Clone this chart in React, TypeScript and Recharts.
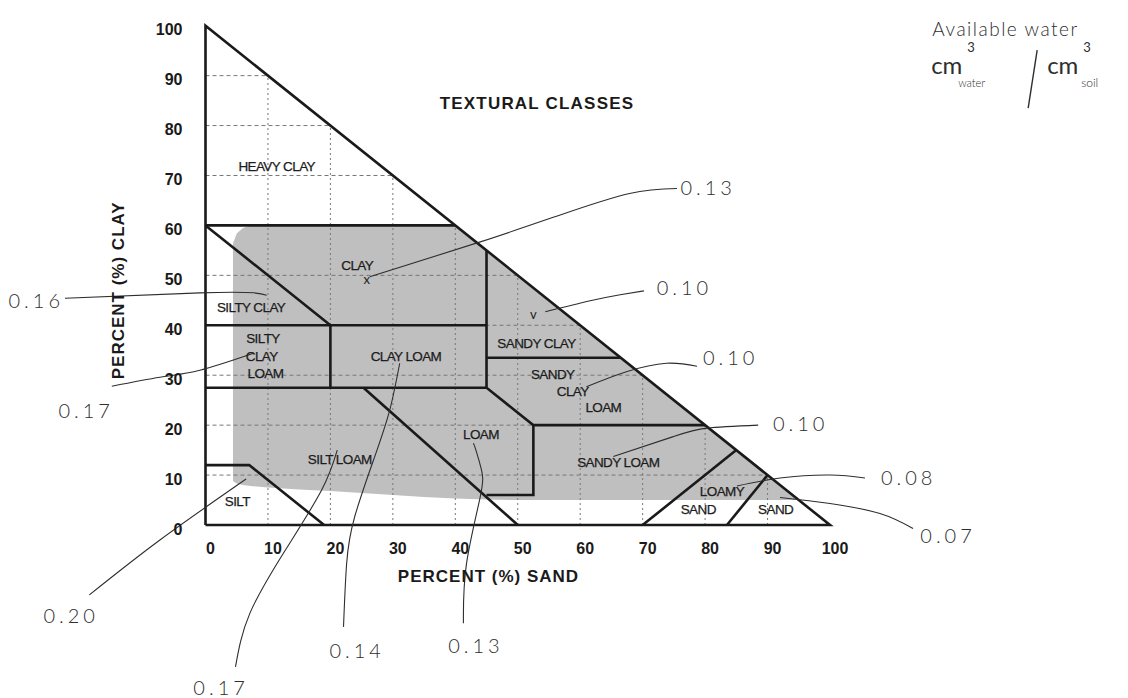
import React from 'react';
import { ComposedChart, XAxis, YAxis, Line, Area, Scatter } from 'recharts';

// ---------- data ----------
const xTickValues = [0, 10, 20, 30, 40, 50, 60, 70, 80, 90, 100];
const yTickValues = [0, 10, 20, 30, 40, 50, 60, 70, 80, 90, 100];
const gridValues = [10, 20, 30, 40, 50, 60, 70, 80, 90];

const triangleOutline = [
  { x: 0, y: 0 }, { x: 0, y: 100 }, { x: 100, y: 0 }, { x: 0, y: 0 },
];

const classBoundaries = [
  [{ x: 0, y: 60 }, { x: 40, y: 60 }],
  [{ x: 0, y: 60 }, { x: 20, y: 40 }],
  [{ x: 0, y: 40 }, { x: 45, y: 40 }],
  [{ x: 20, y: 40 }, { x: 20, y: 27.5 }],
  [{ x: 0, y: 27.5 }, { x: 45, y: 27.5 }],
  [{ x: 45, y: 55 }, { x: 45, y: 27.5 }, { x: 52.5, y: 20 }, { x: 52.5, y: 6 }, { x: 45, y: 6 }],
  [{ x: 45, y: 33.5 }, { x: 66.5, y: 33.5 }],
  [{ x: 52.5, y: 20 }, { x: 80, y: 20 }],
  [{ x: 25.3, y: 27.5 }, { x: 50, y: 0 }],
  [{ x: 0, y: 12 }, { x: 7, y: 12 }, { x: 19, y: 0 }],
  [{ x: 70, y: 0 }, { x: 85, y: 15 }],
  [{ x: 83.5, y: 0 }, { x: 90, y: 10 }],
];

// shaded range (available-water zone): [lower, upper] clay % per sand %
const shadedZone = [
  { x: 4.4, range: [8.8, 56.4] },
  { x: 5, range: [8.3, 58.4] },
  { x: 6, range: [8.0, 59.5] },
  { x: 7.2, range: [7.8, 60] },
  { x: 10, range: [7.5, 60] },
  { x: 15, range: [7.1, 60] },
  { x: 20, range: [6.8, 60] },
  { x: 25, range: [6.4, 60] },
  { x: 30, range: [6.0, 60] },
  { x: 35, range: [5.6, 60] },
  { x: 40, range: [5.3, 60] },
  { x: 45, range: [5.1, 55] },
  { x: 50, range: [5.0, 50] },
  { x: 60, range: [5.0, 40] },
  { x: 70, range: [5.0, 30] },
  { x: 80, range: [5.0, 20] },
  { x: 90, range: [5.0, 10] },
  { x: 95, range: [5.0, 5.0] },
];

const classLabels = [
  { x: 11.4, y: 71.9, label: 'HEAVY CLAY' },
  { x: 24.3, y: 52.0, label: 'CLAY' },
  { x: 7.3, y: 43.5, label: 'SILTY CLAY' },
  { x: 9.2, y: 37.3, label: 'SILTY' },
  { x: 9.0, y: 33.8, label: 'CLAY' },
  { x: 9.6, y: 30.4, label: 'LOAM' },
  { x: 32.1, y: 33.7, label: 'CLAY LOAM' },
  { x: 21.5, y: 13.2, label: 'SILT LOAM' },
  { x: 5.1, y: 4.7, label: 'SILT' },
  { x: 44.1, y: 18.2, label: 'LOAM' },
  { x: 53.0, y: 36.4, label: 'SANDY CLAY' },
  { x: 55.6, y: 30.2, label: 'SANDY' },
  { x: 58.8, y: 26.8, label: 'CLAY' },
  { x: 63.7, y: 23.5, label: 'LOAM' },
  { x: 66.1, y: 12.6, label: 'SANDY LOAM' },
  { x: 82.7, y: 6.7, label: 'LOAMY' },
  { x: 78.9, y: 3.1, label: 'SAND' },
  { x: 91.3, y: 3.1, label: 'SAND' },
];

const chartTitle = [{ x: 37.5, y: 84.5, label: 'TEXTURAL CLASSES' }];
const xAxisTitle = [{ x: 30.8, y: -10.4, label: 'PERCENT (%) SAND' }];
const yAxisTitle = [{ x: -14.0, y: 47.0, label: 'PERCENT (%) CLAY' }];

const sampleMarks = [
  { x: 25.8, y: 49.3, label: 'x' },
  { x: 52.5, y: 42.3, label: 'v' },
];

const waterValues = [
  { x: 80.5, y: 67.7, label: '0.13' },
  { x: 76.7, y: 47.7, label: '0.10' },
  { x: 84.1, y: 33.7, label: '0.10' },
  { x: 95.3, y: 20.5, label: '0.10' },
  { x: 112.6, y: 9.7, label: '0.08' },
  { x: 118.9, y: -2.0, label: '0.07' },
  { x: -27.1, y: 45.1, label: '0.16' },
  { x: -19.1, y: 23.0, label: '0.17' },
  { x: -21.5, y: -18.0, label: '0.20' },
  { x: 2.5, y: -32.4, label: '0.17' },
  { x: 24.3, y: -25.0, label: '0.14' },
  { x: 43.3, y: -24.1, label: '0.13' },
];

const leaderLines = [
  [{ x: 26.3, y: 49.7 }, { x: 44.0, y: 56.7 }, { x: 56.8, y: 62.1 }, { x: 67.9, y: 66.4 }, { x: 75.5, y: 67.4 }],
  [{ x: 54.4, y: 42.7 }, { x: 61.6, y: 44.9 }, { x: 66.4, y: 46.1 }, { x: 70.2, y: 46.9 }],
  [{ x: 61.0, y: 27.7 }, { x: 67.4, y: 30.7 }, { x: 73.8, y: 32.4 }, { x: 78.7, y: 31.8 }],
  [{ x: 65.3, y: 13.7 }, { x: 74.9, y: 17.7 }, { x: 80.3, y: 19.4 }, { x: 88.5, y: 20.0 }],
  [{ x: 85.1, y: 7.8 }, { x: 92.0, y: 9.4 }, { x: 100.0, y: 10.0 }, { x: 105.6, y: 9.4 }],
  [{ x: 92.0, y: 5.5 }, { x: 100.0, y: 4.3 }, { x: 108.0, y: 2.3 }, { x: 113.3, y: -0.7 }],
  [{ x: -22.5, y: 45.4 }, { x: -0.9, y: 46.5 }, { x: 7.7, y: 46.5 }, { x: 9.8, y: 46.0 }],
  [{ x: -15.0, y: 27.8 }, { x: -7.3, y: 29.6 }, { x: -0.9, y: 31.0 }, { x: 7.7, y: 34.4 }],
  [{ x: -18.6, y: -14.0 }, { x: -7.3, y: -3.0 }, { x: 6.5, y: 9.2 }],
  [{ x: 4.8, y: -28.4 }, { x: 7.1, y: -17.7 }, { x: 12.8, y: -5.0 }, { x: 18.6, y: 7.0 }, { x: 21.1, y: 15.0 }],
  [{ x: 22.1, y: -20.4 }, { x: 22.6, y: -7.7 }, { x: 23.9, y: 1.7 }, { x: 27.1, y: 13.7 }, { x: 29.5, y: 23.0 }, { x: 31.1, y: 32.4 }],
  [{ x: 41.3, y: -19.7 }, { x: 41.8, y: -7.7 }, { x: 44.0, y: 5.7 }, { x: 44.2, y: 11.0 }, { x: 43.3, y: 15.0 }, { x: 42.9, y: 16.4 }],
];

const noteTitle = [{ x: 128.1, y: 99.5, label: 'Available water' }];
const noteUnits = [{ x: 116.2, y: 92.3, num: 'cm', sub1: 'water', den: 'cm', sub2: 'soil', exp: '3' }];

// ---------- layout ----------
const W = 1128;
const H = 698;
const X_DOMAIN: [number, number] = [-32.906, 147.718];
const Y_DOMAIN: [number, number] = [-34.648, 105.147];

const PRINT = "'Liberation Sans', Arial, Helvetica, sans-serif";
const HAND = "Lato, 'Open Sans', sans-serif";
const INK = '#1a1a1a';
const PENCIL = '#2e2e2e';

const gridVertical = gridValues.map((v) => [{ x: v, y: 0 }, { x: v, y: 100 - v }]);
const gridHorizontal = gridValues.map((v) => [{ x: 0, y: v }, { x: 100 - v, y: v }]);
const xTicks = xTickValues.map((v) => ({ x: v, y: 0, label: String(v) }));
const yTicks = yTickValues.map((v) => ({ x: 0, y: v, label: String(v) }));

const YTickShape = (p: any) => (
  <text x={p.cx - 23} y={p.cy + 4} textAnchor="end" dominantBaseline="central"
    fontFamily={PRINT} fontWeight="bold" fontSize={16} fill={INK}>{p.payload.label}</text>
);
const XTickShape = (p: any) => (
  <text x={p.cx + 5} y={p.cy + 23} textAnchor="middle" dominantBaseline="central"
    fontFamily={PRINT} fontWeight="bold" fontSize={16} fill={INK}>{p.payload.label}</text>
);
const ClassLabelShape = (p: any) => (
  <text x={p.cx} y={p.cy} textAnchor="middle" dominantBaseline="central"
    fontFamily={PRINT} fontSize={13.5} letterSpacing={-0.6} fill="#1c1c1c"
    stroke="#1c1c1c" strokeWidth={0.25}>{p.payload.label}</text>
);
const TitleShape = (p: any) => (
  <text x={p.cx} y={p.cy} textAnchor="start" dominantBaseline="central"
    fontFamily={PRINT} fontWeight="bold" fontSize={17} letterSpacing={1.2} fill={INK}>{p.payload.label}</text>
);
const XTitleShape = (p: any) => (
  <text x={p.cx} y={p.cy} textAnchor="start" dominantBaseline="central"
    fontFamily={PRINT} fontWeight="bold" fontSize={17} letterSpacing={1} fill={INK}>{p.payload.label}</text>
);
const YTitleShape = (p: any) => (
  <text x={p.cx} y={p.cy} textAnchor="middle" dominantBaseline="central"
    transform={`rotate(-90 ${p.cx} ${p.cy})`}
    fontFamily={PRINT} fontWeight="bold" fontSize={17} letterSpacing={1} fill={INK}>{p.payload.label}</text>
);
const MarkShape = (p: any) => (
  <text x={p.cx} y={p.cy} textAnchor="middle" dominantBaseline="central"
    fontFamily={HAND} fontSize={13} fill="#222">{p.payload.label}</text>
);
const ValueShape = (p: any) => (
  <text x={p.cx} y={p.cy} textAnchor="middle" dominantBaseline="central"
    fontFamily={HAND} fontWeight={300} fontSize={20} letterSpacing={4} fill={PENCIL}>{p.payload.label}</text>
);
const NoteShape = (p: any) => (
  <text x={p.cx} y={p.cy} textAnchor="middle" dominantBaseline="central"
    fontFamily={HAND} fontWeight={300} fontSize={19} letterSpacing={1.5} fill={PENCIL}>{p.payload.label}</text>
);
const UnitsShape = (p: any) => {
  const d = p.payload;
  const x = p.cx;
  const y = p.cy;
  return (
    <g fill={PENCIL} fontFamily={HAND}>
      <text x={x} y={y} dominantBaseline="central" fontSize={24}>{d.num}</text>
      <text x={x + 36} y={y - 17} dominantBaseline="central" fontSize={13}>{d.exp}</text>
      <text x={x + 27} y={y + 18} dominantBaseline="central" fontSize={11} fontWeight={300}>{d.sub1}</text>
      <line x1={x + 106} y1={y - 14} x2={x + 97} y2={y + 44} stroke={PENCIL} strokeWidth={1.4} />
      <text x={x + 116} y={y} dominantBaseline="central" fontSize={24}>{d.den}</text>
      <text x={x + 152} y={y - 17} dominantBaseline="central" fontSize={13}>{d.exp}</text>
      <text x={x + 150} y={y + 18} dominantBaseline="central" fontSize={12} fontWeight={300}>{d.sub2}</text>
    </g>
  );
};

export default function App() {
  return (
    <div style={{ position: 'absolute', left: 0, top: 0, width: W, height: H, background: '#fff' }}>
      <ComposedChart width={W} height={H} margin={{ top: 0, right: 0, bottom: 0, left: 0 }}>
        <XAxis type="number" dataKey="x" domain={X_DOMAIN} allowDataOverflow hide />
        <YAxis type="number" domain={Y_DOMAIN} allowDataOverflow hide />

        <Area data={shadedZone} dataKey="range" type="linear" fill="#bfbfbf" fillOpacity={1}
          stroke="none" isAnimationActive={false} />

        {gridVertical.map((seg, i) => (
          <Line key={`gv${i}`} data={seg} dataKey="y" type="linear" stroke="#777"
            strokeWidth={1} strokeDasharray="2 3" dot={false} isAnimationActive={false} />
        ))}
        {gridHorizontal.map((seg, i) => (
          <Line key={`gh${i}`} data={seg} dataKey="y" type="linear" stroke="#777"
            strokeWidth={1} strokeDasharray="4 3" dot={false} isAnimationActive={false} />
        ))}

        {classBoundaries.map((seg, i) => (
          <Line key={`cb${i}`} data={seg} dataKey="y" type="linear" stroke={INK}
            strokeWidth={2.6} dot={false} isAnimationActive={false} />
        ))}
        <Line data={triangleOutline} dataKey="y" type="linear" stroke={INK}
          strokeWidth={2.6} dot={false} isAnimationActive={false} />

        <Scatter data={xTicks} dataKey="y" shape={XTickShape} isAnimationActive={false} />
        <Scatter data={yTicks} dataKey="y" shape={YTickShape} isAnimationActive={false} />
        <Scatter data={classLabels} dataKey="y" shape={ClassLabelShape} isAnimationActive={false} />
        <Scatter data={chartTitle} dataKey="y" shape={TitleShape} isAnimationActive={false} />
        <Scatter data={xAxisTitle} dataKey="y" shape={XTitleShape} isAnimationActive={false} />
        <Scatter data={yAxisTitle} dataKey="y" shape={YTitleShape} isAnimationActive={false} />

        {leaderLines.map((seg, i) => (
          <Line key={`ll${i}`} data={seg} dataKey="y" type="natural" stroke={PENCIL}
            strokeWidth={1.1} dot={false} isAnimationActive={false} />
        ))}
        <Scatter data={sampleMarks} dataKey="y" shape={MarkShape} isAnimationActive={false} />
        <Scatter data={waterValues} dataKey="y" shape={ValueShape} isAnimationActive={false} />
        <Scatter data={noteTitle} dataKey="y" shape={NoteShape} isAnimationActive={false} />
        <Scatter data={noteUnits} dataKey="y" shape={UnitsShape} isAnimationActive={false} />
      </ComposedChart>
    </div>
  );
}
